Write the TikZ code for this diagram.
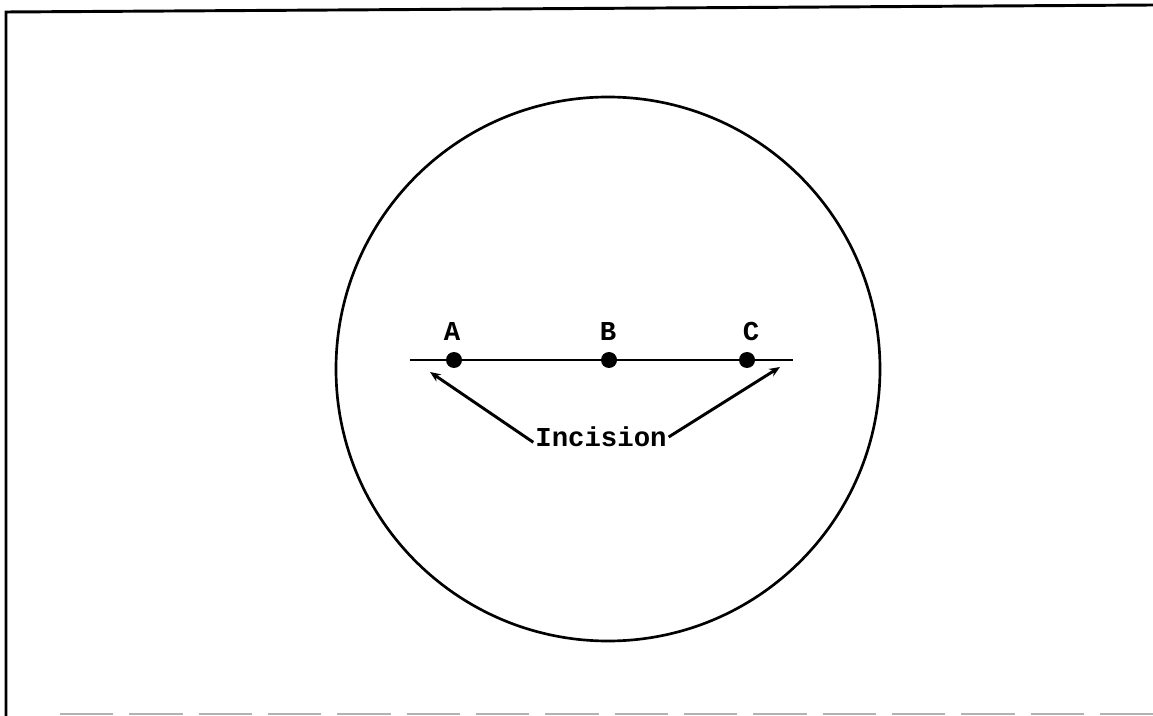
\documentclass[tikz,border=0pt]{standalone}
\usepackage{fontspec}
\setmonofont{Liberation Mono}
\usetikzlibrary{arrows.meta}

\begin{document}
\begin{tikzpicture}[
  x=0.75pt, y=-0.75pt,
  every node/.style={font=\ttfamily\bfseries\fontsize{20.5}{22}\selectfont},
  pt/.style={circle,fill=black,inner sep=0pt,minimum size=12pt},
  >={Stealth[length=8pt,width=6.5pt]}
]
  \useasboundingbox (0,0) rectangle (1153,716);

  % frame
  \draw[line width=2.2pt] (6,716) -- (6,12) -- (1153,5);
  \draw[gray!60,line width=1.5pt,dash pattern=on 40pt off 12pt] (60,714) -- (1153,714);

  % specimen
  \draw[line width=2pt] (608,369) circle (272);
  \draw[line width=2.2pt] (410,360) -- (793,360);

  \node[pt] (a) at (454,360) {};
  \node[pt] (b) at (609,360) {};
  \node[pt] (c) at (747,360) {};

  \node (la) at (452,331) {A};
  \node (lb) at (608,331) {B};
  \node (lc) at (751,331) {C};

  \node (inc) at (601,437) {Incision};
  \coordinate (l) at (430,372);
  \coordinate (r) at (780,367);

  \draw[->,line width=2.2pt] (inc.west) ++(2pt,-4pt) -- (l);
  \draw[->,line width=2.2pt] (inc.east) ++(-2pt,0pt) -- (r);
\end{tikzpicture}
\end{document}
